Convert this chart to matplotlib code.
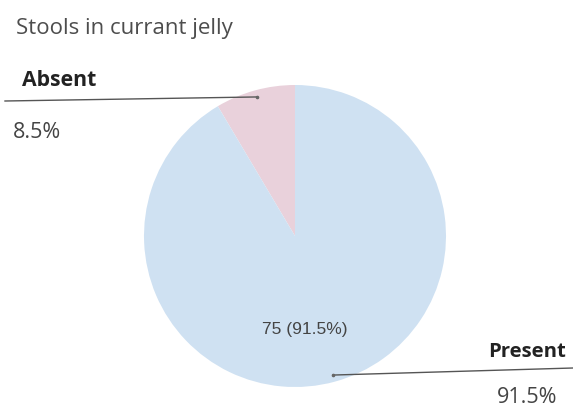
import numpy as np
import matplotlib.pyplot as plt

# Stools in currant jelly: counts per answer
labels = ['Absent', 'Present']
counts = [7, 75]
colors = ['#e9d1db', '#cfe1f2']

total = sum(counts)
pcts = [c / total * 100 for c in counts]

W, H = 573, 410
fig = plt.figure(figsize=(W / 100, H / 100), dpi=100)
ax = fig.add_axes([0, 0, 1, 1])

cx, cy, r = 295, H - 237, 151


def inner_label(p):
    # only the big slice gets a value label inside
    if p < 20:
        return ''
    return f'{round(p * total / 100)} ({p:.1f}%)'


wedges, _, autotexts = ax.pie(counts, colors=colors, startangle=90, counterclock=True,
                              center=(cx, cy), radius=r, autopct=inner_label,
                              pctdistance=0.6, frame=True,
                              textprops=dict(family='Liberation Sans', fontsize=12.5, color='#444444'))
ax.set_xlim(0, W)
ax.set_ylim(0, H)
ax.set_aspect('equal')
ax.axis('off')
for t in autotexts:
    x, y = t.get_position()
    t.set_position((x - 14, y - 5))

fig.text(16 / W, 1 - 34 / H, 'Stools in currant jelly', family='Open Sans',
         fontsize=16, color='#4d4d4d', va='baseline', ha='left')

# leader lines from each wedge's middle out to its label
ends = [(5, H - 102), (573, H - 369)]
for w, end in zip(wedges, ends):
    mid = np.deg2rad((w.theta1 + w.theta2) / 2)
    px = cx + 0.955 * r * np.cos(mid)
    py = cy + 0.955 * r * np.sin(mid)
    ax.plot([px, end[0]], [py, end[1]], color='#555555', lw=1.0, clip_on=False)
    ax.plot(px, py, 'o', ms=1.6, color='#666666')

ax.text(22, H - 81, labels[0], family='Open Sans', fontweight='bold', fontsize=15.3,
        color='#222222', ha='left', va='center')
ax.text(13, H - 133, f'{pcts[0]:.1f}%', family='Open Sans', fontsize=15.5,
        color='#444444', ha='left', va='center')
ax.text(566, H - 352, labels[1], family='Open Sans', fontweight='bold', fontsize=14.6,
        color='#222222', ha='right', va='center')
ax.text(557, H - 398, f'{pcts[1]:.1f}%', family='Open Sans', fontsize=15.5,
        color='#444444', ha='right', va='center')

fig.savefig('out.png', dpi=100, facecolor='white')
